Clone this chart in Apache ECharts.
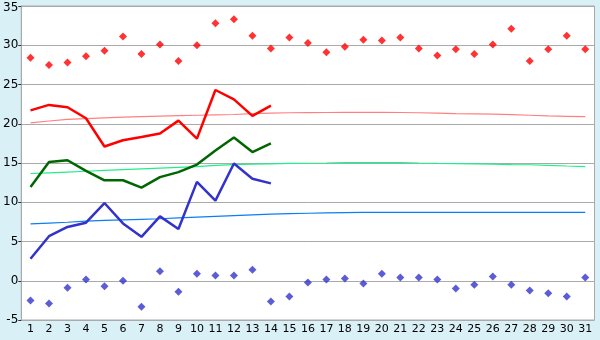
<!DOCTYPE html>
<html>
<head>
<meta charset="utf-8">
<script src="https://cdn.jsdelivr.net/npm/echarts@6/dist/echarts.min.js"></script>
<style>
  html, body { margin: 0; padding: 0; background: #daf0f7; }
  #chart { width: 600px; height: 340px; }
</style>
</head>
<body>
<div id="chart"></div>
<script>
const days = Array.from({ length: 31 }, (_, i) => String(i + 1));

// daily extremes (scatter)
const maxPoints = [28.4, 27.5, 27.8, 28.6, 29.3, 31.1, 28.9, 30.1, 28.0, 30.0,
  32.8, 33.3, 31.2, 29.6, 31.0, 30.3, 29.1, 29.8, 30.7, 30.6,
  31.0, 29.6, 28.7, 29.5, 28.9, 30.1, 32.1, 28.0, 29.5, 31.2, 29.5];
const minPoints = [-2.5, -2.9, -0.9, 0.15, -0.7, 0.0, -3.3, 1.2, -1.4, 0.9,
  0.66, 0.66, 1.4, -2.65, -2.0, -0.23, 0.15, 0.28, -0.36, 0.9,
  0.4, 0.4, 0.15, -1.0, -0.5, 0.53, -0.5, -1.25, -1.6, -2.0, 0.4];

// current month lines (14 days)
const maxLine = [21.7, 22.4, 22.1, 20.7, 17.1, 17.9, 18.3, 18.75, 20.4, 18.1, 24.3, 23.1, 21.0, 22.3];
const meanLine = [11.95, 15.14, 15.35, 14.0, 12.8, 12.8, 11.87, 13.2, 13.84, 14.8, 16.6, 18.24, 16.4, 17.5];
const minLine = [2.8, 5.67, 6.85, 7.4, 9.9, 7.3, 5.6, 8.2, 6.6, 12.6, 10.2, 14.93, 13.0, 12.4];

// normals (thin lines)
const maxNormal = [20.1, 20.35, 20.55, 20.65, 20.75, 20.85, 20.92, 20.98, 21.03, 21.08,
  21.13, 21.18, 21.3, 21.35, 21.4, 21.42, 21.43, 21.44, 21.44, 21.44,
  21.43, 21.4, 21.35, 21.3, 21.27, 21.22, 21.17, 21.08, 21.0, 20.95, 20.9];
const meanNormal = [13.66, 13.75, 13.85, 13.95, 14.05, 14.15, 14.25, 14.35, 14.45, 14.55,
  14.7, 14.8, 14.85, 14.9, 14.95, 14.97, 15.0, 15.05, 15.06, 15.06,
  15.06, 15.0, 14.95, 14.93, 14.9, 14.85, 14.8, 14.78, 14.7, 14.62, 14.55];
const minNormal = [7.25, 7.35, 7.45, 7.6, 7.68, 7.75, 7.82, 7.9, 8.0, 8.1,
  8.2, 8.3, 8.4, 8.48, 8.55, 8.6, 8.65, 8.68, 8.7, 8.7,
  8.7, 8.7, 8.7, 8.7, 8.7, 8.7, 8.7, 8.7, 8.7, 8.7, 8.7];

const chart = echarts.init(document.getElementById('chart'), null, { renderer: 'canvas' });

const thin = (data, color) => ({
  type: 'line', data, symbol: 'none', silent: true, z: 2,
  lineStyle: { color, width: 1.2 }
});
const thick = (data, color) => ({
  type: 'line', data, symbol: 'none', silent: true, z: 3,
  lineStyle: { color, width: 2.5 }
});
const dots = (data, color) => ({
  type: 'scatter', data, symbol: 'diamond', symbolSize: 8, silent: true, z: 4,
  itemStyle: { color }
});

chart.setOption({
  backgroundColor: '#daf0f7',
  animation: false,
  grid: {
    left: 20, right: 5.5, top: 6, bottom: 20,
    show: true, backgroundColor: '#ffffff', borderColor: '#aaaaaa', borderWidth: 1
  },
  xAxis: {
    type: 'category',
    data: days,
    boundaryGap: true,
    axisLine: { lineStyle: { color: '#aaaaaa', width: 1 } },
    axisTick: { alignWithLabel: true, length: 5, lineStyle: { color: '#333' } },
    axisLabel: { interval: 0, color: '#000', fontSize: 11, fontFamily: 'DejaVu Sans', margin: 4 },
    splitLine: { show: false }
  },
  yAxis: {
    type: 'value',
    min: -5, max: 35, interval: 5,
    axisLine: { show: true, lineStyle: { color: '#aaaaaa', width: 1 } },
    axisTick: { show: true, length: 3, lineStyle: { color: '#333' } },
    axisLabel: {
      color: '#000', fontSize: 12, fontFamily: 'DejaVu Sans', margin: 3,
      // top label would be cut by the page edge, nudge it down a little
      formatter: v => (v === 35 ? '{top|35}' : String(v)),
      rich: { top: { fontSize: 12, fontFamily: 'DejaVu Sans', color: '#000', padding: [4, 0, 0, 0] } }
    },
    splitLine: { lineStyle: { color: '#aaaaaa', width: 1 } }
  },
  series: [
    thin(maxNormal, '#ff8080'),
    thin(meanNormal, '#22ee88'),
    thin(minNormal, '#0a7ff0'),
    thick(maxLine, '#ff0000'),
    thick(meanLine, '#006600'),
    thick(minLine, '#3333cc'),
    dots(maxPoints, '#ff0000'),
    dots(minPoints, '#3333cc')
  ]
});
</script>
</body>
</html>
